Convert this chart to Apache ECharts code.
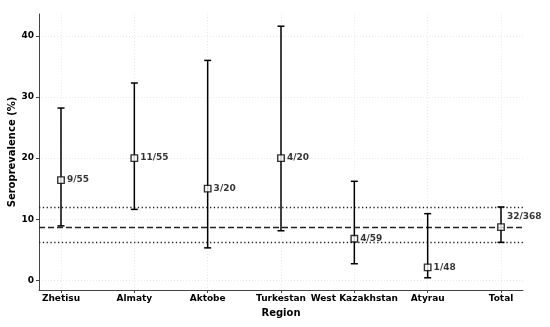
<!DOCTYPE html>
<html>
<head>
<meta charset="utf-8">
<script src="https://cdn.jsdelivr.net/npm/echarts@6/dist/echarts.min.js"></script>
<style>html,body{margin:0;padding:0;background:#fff}#c{width:550px;height:327px}</style>
</head>
<body>
<div id="c"></div>
<script>
const categories = ['Zhetisu', 'Almaty', 'Aktobe', 'Turkestan', 'West Kazakhstan', 'Atyrau', 'Total'];
const prevalence = [16.4, 20.0, 15.0, 20.0, 6.8, 2.1, 8.7];
const lowerCI = [8.9, 11.6, 5.3, 8.1, 2.7, 0.4, 6.2];
const upperCI = [28.2, 32.3, 36.0, 41.6, 16.2, 10.9, 12.0];
const countLabels = ['9/55', '11/55', '3/20', '4/20', '4/59', '1/48', '32/368'];
const overallMean = 8.7;
const overallLow = 6.2;
const overallHigh = 12.0;
const yTicks = [0, 10, 20, 30, 40];

const xIdx = categories.map((_, i) => i);
const font = 'DejaVu Sans';

const errData = categories.map((_, i) => [i, lowerCI[i], upperCI[i]]);
const ptData = categories.map((_, i) => {
  const item = { value: [i, prevalence[i]], name: countLabels[i] };
  if (i === categories.length - 1) {
    item.label = { offset: [0, -10] };
  }
  return item;
});

const chart = echarts.init(document.getElementById('c'), null, { renderer: 'canvas' });
chart.setOption({
  animation: false,
  backgroundColor: '#fff',
  grid: { left: 39, right: 27, top: 14, bottom: 37, containLabel: false, outerBoundsMode: 'none' },
  xAxis: {
    type: 'value', min: -0.3, max: 6.3,
    name: 'Region', nameLocation: 'middle', nameGap: 18, nameMoveOverlap: false,
    nameTextStyle: { fontFamily: font, fontWeight: 'bold', fontSize: 10, color: '#000', verticalAlign: 'top' },
    axisLine: { onZero: false, lineStyle: { color: '#444', width: 1 } },
    axisTick: { show: true, customValues: xIdx, length: 3, lineStyle: { color: '#444' } },
    axisLabel: { customValues: xIdx, margin: 4, formatter: v => categories[Math.round(v)] || '',
      fontFamily: font, fontWeight: 'bold', fontSize: 9, color: '#000' },
    splitLine: { show: true, lineStyle: { color: '#e4e4e4', type: [1, 2], width: 0.8 } }
  },
  yAxis: {
    type: 'value', min: -1.6, max: 43.6,
    name: 'Seroprevalence (%)', nameLocation: 'middle', nameGap: 22, nameMoveOverlap: false,
    nameTextStyle: { fontFamily: font, fontWeight: 'bold', fontSize: 10, color: '#000' },
    axisLine: { show: true, onZero: false, lineStyle: { color: '#444', width: 1 } },
    axisTick: { show: true, customValues: yTicks, length: 3, lineStyle: { color: '#444' } },
    axisLabel: { customValues: yTicks, margin: 5, fontFamily: font, fontWeight: 'bold', fontSize: 9, color: '#000' },
    splitLine: { show: true, lineStyle: { color: '#e4e4e4', type: [1, 2], width: 0.8 } }
  },
  series: [
    {
      type: 'custom', z: 3, silent: true,
      data: errData,
      encode: { x: 0, y: [1, 2] },
      renderItem: function (params, api) {
        const x = api.value(0);
        const lo = api.coord([x, api.value(1)]);
        const hi = api.coord([x, api.value(2)]);
        const cap = 3.5;
        const st = { stroke: '#000', lineWidth: 1.5 };
        return { type: 'group', children: [
          { type: 'line', shape: { x1: lo[0], y1: lo[1], x2: hi[0], y2: hi[1] }, style: st },
          { type: 'line', shape: { x1: lo[0] - cap, y1: lo[1], x2: lo[0] + cap, y2: lo[1] }, style: st },
          { type: 'line', shape: { x1: hi[0] - cap, y1: hi[1], x2: hi[0] + cap, y2: hi[1] }, style: st }
        ] };
      }
    },
    {
      type: 'scatter', z: 5, silent: true,
      symbol: 'rect', symbolSize: 6.5,
      itemStyle: { color: '#fff', borderColor: '#000', borderWidth: 1.4 },
      data: ptData,
      label: { show: true, position: 'right', distance: 2, formatter: p => p.name,
        fontFamily: font, fontWeight: 'bold', fontSize: 9, color: '#000' },
      markLine: {
        silent: true, symbol: 'none', z: 2, label: { show: false },
        data: [
          { yAxis: overallMean, lineStyle: { color: '#222', type: [6, 3], width: 1.4 } },
          { yAxis: overallHigh, lineStyle: { color: '#222', type: [1.3, 2.5], width: 1.3 } },
          { yAxis: overallLow, lineStyle: { color: '#222', type: [1.3, 2.5], width: 1.3 } }
        ]
      }
    }
  ]
});
</script>
</body>
</html>
